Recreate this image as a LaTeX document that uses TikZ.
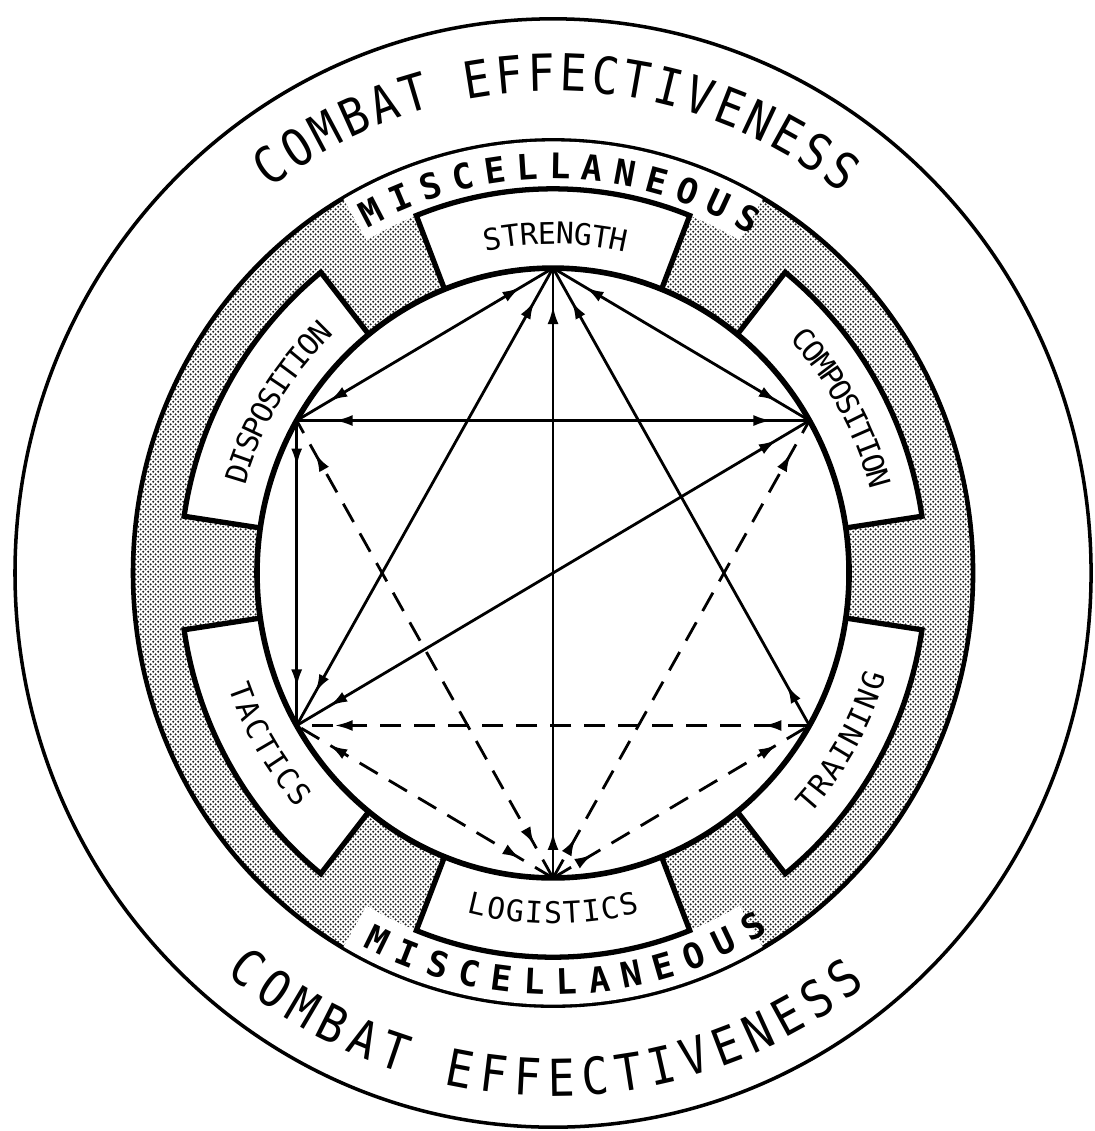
\documentclass[tikz,border=0pt]{standalone}
\usepackage{fontspec}
\usetikzlibrary{arrows.meta,decorations.markings,patterns.meta}
\newfontfamily\leroy{DejaVu Sans Mono}
\newfontfamily\leroynarrow[FakeStretch=0.88]{DejaVu Sans Mono}
\newcommand{\bigtype}{\leroynarrow\fontsize{14.5pt}{16pt}\selectfont}
\newcommand{\misctype}{\leroy\bfseries\fontsize{10pt}{12pt}\selectfont}
\newcommand{\boxtype}{\leroy\fontsize{8.5pt}{10pt}\selectfont}

% fine screen for the shaded ring
\pgfdeclarepattern{
  name=stipple, type=uncolored,
  bottom left={\pgfqpoint{0pt}{0pt}}, top right={\pgfqpoint{1.4pt}{1.4pt}},
  tile size={\pgfqpoint{1.4pt}{1.4pt}},
  code={\pgfpathcircle{\pgfqpoint{0.35pt}{0.35pt}}{0.33pt}
        \pgfpathcircle{\pgfqpoint{1.05pt}{1.05pt}}{0.33pt}\pgfusepath{fill}}}

% letters set one by one on an arc, read clockwise (tops outward)
\newcommand{\cwletters}[6]{%
  \foreach \ch [count=\i] in {#6} {
    \pgfmathsetmacro{\ang}{#2+(#4+1)/2*#3-\i*#3}
    \node[letter, rotate=\ang-90] (#1-\i) at (\ang:#5) {\ch};
  }}
% same, read counter-clockwise (tops inward)
\newcommand{\ccwletters}[6]{%
  \foreach \ch [count=\i] in {#6} {
    \pgfmathsetmacro{\ang}{#2-(#4+1)/2*#3+\i*#3}
    \node[letter, rotate=\ang+90] (#1-\i) at (\ang:#5) {\ch};
  }}

\begin{document}
\begin{tikzpicture}[
    x=0.1mm, y=0.1mm,
    >={Latex[length=1.8mm, width=1.1mm]},
    letter/.style={inner sep=0pt, anchor=center},
    labelbox/.style={draw, fill=white, line width=1.5pt, line join=miter},
    link/.style={line width=0.8pt},
    dashlink/.style={link, dash pattern=on 2.1mm off 1.3mm},
    twoway/.style={postaction={decorate}, decoration={markings,
        mark=at position 3.8mm with {\arrowreversed{>}},
        mark=at position -3.8mm with {\arrow{>}}}},
    oneway/.style={postaction={decorate}, decoration={markings,
        mark=at position 4.6mm with {\arrow{>}},
        mark=at position -3.8mm with {\arrow{>}}}}
  ]
  \begin{scope}[yscale=1.03]
    \useasboundingbox (-553,-541.7) rectangle (541,556.3);

    % rings
    \draw[line width=1pt] (0,0) circle[radius=538];
    \fill[pattern=stipple, pattern color=black!85, even odd rule]
      (0,0) circle[radius=420] (0,0) circle[radius=296];
    \draw[line width=1.3pt] (0,0) circle[radius=420];
    \fill[white] (60:373) arc[start angle=60, end angle=120, radius=373]
      -- (120:419) arc[start angle=120, end angle=60, radius=419] -- cycle;
    \fill[white] (240:373) arc[start angle=240, end angle=300, radius=373]
      -- (300:419) arc[start angle=300, end angle=240, radius=419] -- cycle;

    % label boxes
    \foreach \a in {90,30,-30,-90,-150,150}
      \draw[labelbox] (\a-21.5:296) -- (\a-21.5:373)
        arc[start angle=\a-21.5, end angle=\a+21.5, radius=373] -- (\a+21.5:296);
    \draw[line width=1.6pt] (0,0) circle[radius=296];

    % texts
    \begin{scope}[font=\bigtype]
      \cwletters{cetop}{89.5}{3.8}{20}{486}{C,O,M,B,A,T,{},E,F,F,E,C,T,I,V,E,N,E,S,S}
      \ccwletters{cebot}{-91}{3.95}{20}{490}{C,O,M,B,A,T,{},E,F,F,E,C,T,I,V,E,N,E,S,S}
    \end{scope}
    \begin{scope}[font=\misctype]
      \cwletters{mitop}{89}{4.75}{13}{395}{M,I,S,C,E,L,L,A,N,E,O,U,S}
      \ccwletters{mibot}{-88}{4.7}{13}{397}{M,I,S,C,E,L,L,A,N,E,O,U,S}
    \end{scope}
    \begin{scope}[font=\boxtype]
      \cwletters{strength}{89.5}{3.15}{8}{330}{S,T,R,E,N,G,T,H}
      \cwletters{composition}{29}{2.65}{11}{338}{C,O,M,P,O,S,I,T,I,O,N}
      \cwletters{disposition}{149}{2.8}{11}{330}{D,I,S,P,O,S,I,T,I,O,N}
      \ccwletters{training}{-29.5}{3.25}{8}{337}{T,R,A,I,N,I,N,G}
      \ccwletters{logistics}{-90}{3.3}{9}{330}{L,O,G,I,S,T,I,C,S}
      \ccwletters{tactics}{210.3}{3.33}{7}{332}{T,A,C,T,I,C,S}
    \end{scope}

    % hexagon corners
    \coordinate (str) at (90:296);
    \coordinate (com) at (30:296);
    \coordinate (tra) at (-30:296);
    \coordinate (log) at (-90:296);
    \coordinate (tac) at (210:296);
    \coordinate (dis) at (150:296);

    % solid links
    \draw[link, twoway] (str) -- (dis);
    \draw[link, twoway] (str) -- (tac);
    \draw[link, oneway] (log) -- (str);
    \draw[link, oneway] (tra) -- (str);
    \draw[link, twoway] (str) -- (com);
    \draw[link, twoway] (com) -- (dis);
    \draw[link, oneway] (dis) -- (tac);
    \draw[link, twoway] (com) -- (tac);
    % dashed links
    \draw[dashlink, oneway] (tra) -- (tac);
    \draw[dashlink, twoway] (log) -- (tac);
    \draw[dashlink, twoway] (log) -- (dis);
    \draw[dashlink, oneway] (log) -- (com);
    \draw[dashlink, oneway] (log) -- (tra);
  \end{scope}
\end{tikzpicture}
\end{document}
